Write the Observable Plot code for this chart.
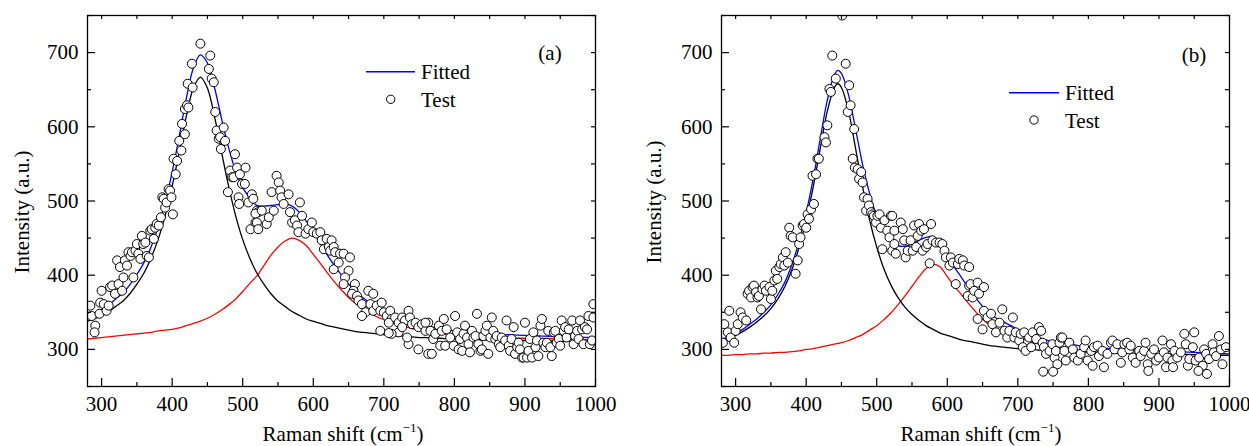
<!DOCTYPE html>
<html><head><meta charset="utf-8">
<script src="https://cdn.jsdelivr.net/npm/d3@7"></script>
<script src="https://cdn.jsdelivr.net/npm/@observablehq/plot@0.6"></script>
<style>
body{margin:0;background:#fff;}
#wrap{position:relative;width:1249px;height:446px;background:#fff;overflow:hidden;}
#pa{position:absolute;left:0;top:0;width:625px;}
#pb{position:absolute;left:634px;top:0;width:615px;}
</style></head><body><div id="wrap"><div id="pa"></div><div id="pb"></div></div>
<script>
const FONT = "'Liberation Serif','Times New Roman',Times,serif";
const xMajor = [300,400,500,600,700,800,900,1000];
const xMinor = [350,450,550,650,750,850,950];
const yMajor = [300,400,500,600,700];
const yMinor = [250,350,450,550,650,750];
const xLabel = "Raman shift (cm";
const yLabel = "Intensity (a.u.)";
const legendFitted = "Fitted";
const legendTest = "Test";

// ---------- panel (a) ----------
const fitXA = [280,290,300,310,320,330,340,350,360,370,380,390,400,410,420,430,440,450,460,470,480,490,500,510,520,530,540,550,560,570,580,590,600,610,620,630,640,650,660,670,680,690,700,710,720,730,740,750,760,780,800,850,900,950,1000];
const blackA = [338,341,346,351,358,365,375,388,403,423,448,480,520,566,614,652,667,652,614,566,520,480,448,423,403,388,375,365,358,351,346,341,338,335,332,330,328,326,324,323,322,321,320,319,318,318,317,316,316,315,314,313,312,311,311];
const redA = [314,315,316,317,318,319,320,321,322,323,325,326,327,329,332,335,338,342,347,353,360,368,378,389,399,413,427,438,446,450,447,440,428,416,403,391,380,370,362,355,349,344,340,336,334,331,328,326,324,321,319,316,315,314,313];
const blueA = [344,348,354,360,368,376,387,401,417,438,465,498,539,587,638,679,697,686,653,611,572,540,518,504,494,493,494,495,496,493,485,473,458,443,427,413,400,388,378,370,363,357,352,347,344,341,337,334,332,328,325,321,319,317,316];
const testA = [
[284,359],[286,345],[291,332],[290,323],[298,363],[297,348],[303,361],[300,379],[307,352],[310,359],[312,384],[315,386],[319,375],[322,420],[324,388],[326,411],[329,379],[331,397],[333,420],[336,413],[338,431],[341,426],[343,431],[345,397],[348,433],[350,442],[352,429],[355,422],[357,453],[359,442],[362,444],[364,426],[367,424],[369,460],[371,462],[374,449],[376,464],[378,469],[381,467],[384,478],[386,505],[388,503],[390,491],[392,498],[395,516],[397,514],[399,505],[401,482],[402,557],[405,536],[407,554],[410,581],[413,568],[414,604],[418,590],[418,624],[421,629],[422,658],[423,626],[428,685],[429,653],[440,712],[454,696],[452,678],[456,665],[459,660],[461,620],[463,595],[466,584],[468,586],[469,570],[473,599],[475,581],[479,512],[482,541],[485,532],[487,532],[489,563],[492,545],[494,505],[495,496],[496,536],[499,523],[503,523],[504,545],[508,498],[511,462],[513,509],[515,503],[520,487],[518,471],[522,485],
[518,483],[520,471],[522,462],[527,487],[534,469],[537,478],[544,487],[541,512],[548,534],[551,525],[553,514],[555,505],[558,496],[565,509],[567,485],[570,471],[574,474],[577,467],[579,458],[581,498],[584,480],[589,456],[593,462],[598,471],[600,458],[605,456],[610,458],[612,447],[615,435],[619,449],[622,438],[624,433],[626,447],
[629,438],[631,431],[638,429],[643,429],[652,424],[629,408],[636,417],[650,406],[645,397],[643,388],[659,388],[657,379],[655,375],[662,372],[664,366],[669,361],[674,350],[669,345],[678,379],[685,375],[681,361],[685,352],[690,359],[695,352],[697,363],[700,350],[704,345],[709,352],[711,341],[707,336],[716,343],[721,336],[726,343],[730,339],[735,352],[737,343],[740,334],[745,336],[749,330],[754,334],[759,325],[763,336],[735,307],[733,316],[749,300],[763,294],[721,323],[711,321],[695,325],[707,322],[726,330],
[759,336],[766,325],[768,294],[770,314],[773,321],[778,332],[780,305],[782,325],[785,341],[787,305],[789,327],[794,316],[799,305],[801,345],[804,323],[806,300],[808,314],[811,298],[813,321],[815,332],[818,316],[820,307],[822,296],[825,325],[827,316],[830,318],[832,348],[834,307],[837,298],[839,300],[841,318],[844,325],[846,332],[848,294],[851,316],[853,343],[855,325],[858,314],[860,318],[863,307],[865,303],[867,316],[872,312],[874,339],[877,305],[879,298],[881,314],[884,330],[886,294],[889,303],[891,309],[893,300],[896,289],[898,289],[900,336],[903,289],[905,298],[907,314],[910,289],[912,323],[915,303],[917,312],[919,291],[922,332],[924,341],[926,309],[929,303],[931,309],[933,325],[936,303],[938,291],[941,323],[943,325],[945,309],[948,314],[950,305],[952,339],[955,325],[957,330],[959,316],[962,327],[967,339],[969,307],[971,318],[974,325],[976,314],[978,339],[981,327],[983,307],[985,330],[988,327],[990,345],[992,307],[995,312],[997,343],[997,361]
];

// ---------- panel (b) ----------
const fitXB = [280,290,300,310,320,330,340,350,360,370,380,390,400,410,420,430,440,445,450,460,470,480,490,500,510,520,530,540,550,560,570,580,590,600,610,620,630,640,650,660,670,680,690,700,710,720,730,740,750,760,780,800,850,900,950,1000];
const blackB = [312,315,319,324,330,337,345,355,368,385,408,438,474,519,571,621,653,658,653,621,571,519,474,438,409,387,370,357,347,339,332,327,322,319,316,313,311,309,307,305,304,303,302,301,300,300,299,298,298,297,297,296,295,294,293,292];
const redB = [292,292,293,293,294,294,295,295,296,296,297,298,300,301,303,305,307,308,309,312,316,320,326,332,340,349,360,372,385,398,409,415,411,398,385,374,362,351,341,333,328,324,320,316,313,310,307,305,303,302,299,297,295,294,293,292];
const blueB = [314,317,322,327,334,341,350,360,374,391,415,446,484,530,584,636,670,676,672,643,597,549,510,480,459,446,440,439,442,447,451,452,443,427,411,397,383,370,358,348,342,337,332,327,323,320,316,313,311,309,306,303,300,298,296,294];
const testB = [
[282,309],[284,334],[289,323],[291,352],[293,316],[298,309],[300,325],[303,334],[307,350],[310,343],[315,339],[317,375],[319,379],[322,370],[324,384],[326,386],[329,377],[331,370],[333,372],[336,354],[338,381],[341,386],[343,379],[348,384],[350,368],[352,379],[355,393],[357,406],[359,395],[362,411],[364,415],[367,424],[369,413],[371,431],[374,417],[376,464],[378,453],[381,451],[385,402],[388,420],[390,442],[392,451],[395,467],[397,469],[400,464],[402,482],[404,476],[407,489],[411,496],[409,534],[414,536],[416,557],[418,557],[426,586],[428,579],[430,602],[433,651],[435,647],[437,696],[442,665],[456,685],[461,656],[459,620],[463,629],[466,557],[468,597],[469,545],[473,543],[475,530],[478,539],[480,525],[482,505],[485,487],[487,503],[489,494],[492,485],[494,482],[496,480],[499,471],[501,480],[504,482],[506,464],[508,435],[511,474],[515,460],[518,451],[520,480],[522,433],[525,442],[451,750],
[522,480],[525,460],[527,429],[534,471],[537,462],[539,447],[541,424],[544,433],[548,447],[551,433],[553,467],[556,438],[558,453],[560,469],[563,460],[565,433],[567,462],[570,438],[572,442],[575,416],[577,469],[579,447],[584,444],[589,444],[593,442],[596,433],[598,424],[603,413],[605,424],[608,417],[612,388],[615,415],[617,422],[622,420],[624,413],[631,411],[629,372],[631,386],[633,388],[636,370],[638,379],[643,390],[645,375],[652,384],[643,341],[650,327],[652,352],[657,343],[662,348],[664,334],[669,323],[674,336],[678,354],[681,325],[685,316],[688,325],[693,343],[695,316],[697,323],[702,312],[704,321],[707,303],[709,323],[711,298],[716,316],[719,303],[721,323],[726,314],[730,330],[733,325],[735,309],[737,303],[740,294],[745,298],[749,307],[752,289],[754,298],[759,309],[761,316],[756,280],[736,270],[750,270],
[763,316],[766,298],[768,285],[773,309],[778,300],[780,289],[785,285],[789,294],[794,303],[796,312],[799,285],[804,298],[806,278],[808,303],[813,305],[815,291],[820,298],[822,276],[827,294],[832,309],[834,312],[837,300],[841,307],[846,282],[848,296],[851,307],[855,309],[858,300],[860,305],[863,289],[867,282],[872,298],[874,291],[879,298],[881,309],[884,280],[889,294],[893,300],[896,285],[900,289],[905,312],[907,296],[910,276],[912,289],[917,307],[919,285],[922,298],[926,289],[931,296],[936,321],[938,307],[941,278],[943,287],[948,303],[950,323],[952,285],[957,289],[962,278],[964,300],[967,294],[971,287],[976,307],[978,296],[981,291],[985,318],[988,300],[990,280],[995,303],[885,271],[956,271],[968,267],[920,276]
];

function panel(el, cfg) {
  const W = cfg.width, H = 446, mt = 15, mb = 60, ml = 87, mr = W - 87 - 508;
  const FH = H - mt - mb, FW = W - ml - mr;
  const fitted = cfg.fx.map((x, i) => ({x, black: cfg.black[i], red: cfg.red[i], blue: cfg.blue[i]}));
  const lw = 1.3;
  const svg = Plot.plot({
    width: W, height: H,
    marginTop: mt, marginBottom: mb, marginLeft: ml, marginRight: mr,
    x: {domain: [280, 1000]},
    y: {domain: [250, 750]},
    style: {fontFamily: FONT, fontSize: "21px", color: "#000", background: "#fff"},
    marks: [
      Plot.line(fitted, {x: "x", y: "red", stroke: "#ff0000", strokeWidth: lw, curve: "catmull-rom", clip: true}),
      Plot.line(fitted, {x: "x", y: "black", stroke: "#000", strokeWidth: lw, curve: "catmull-rom", clip: true}),
      Plot.line(fitted, {x: "x", y: "blue", stroke: "#0000ff", strokeWidth: lw, curve: "catmull-rom", clip: true}),
      Plot.dot(cfg.test, {x: d => d[0], y: d => d[1], r: 4.5, fill: "#fff", stroke: "#000", strokeWidth: 1, clip: true}),
      Plot.ruleX(xMajor, {insetTop: FH - 8, stroke: "#000", strokeWidth: 1.2}),
      Plot.ruleX(xMinor, {insetTop: FH - 4, stroke: "#000", strokeWidth: 1.2}),
      Plot.ruleX(xMajor.concat(xMinor), {insetBottom: FH - 4, stroke: "#000", strokeWidth: 1.2}),
      Plot.ruleY(yMajor, {insetRight: FW - 8, stroke: "#000", strokeWidth: 1.2}),
      Plot.ruleY(yMinor, {insetRight: FW - 4, stroke: "#000", strokeWidth: 1.2}),
      Plot.ruleY(yMajor.concat(yMinor), {insetLeft: FW - 4, stroke: "#000", strokeWidth: 1.2}),
      Plot.frame({stroke: "#000", strokeWidth: 1.3}),
      Plot.axisX(xMajor, {tickSize: 0, tickPadding: 10, label: null, tickFormat: d3.format("d")}),
      Plot.axisY(yMajor, {tickSize: 0, tickPadding: 9, label: null, tickFormat: d3.format("d")})
    ]
  });
  const s = d3.select(svg);
  const t = (x, y) => s.append("text").attr("x", x).attr("y", y).attr("font-family", FONT)
    .attr("font-size", 21).attr("fill", "#000").attr("text-anchor", "start");
  // y axis title
  s.append("text").attr("transform", `translate(${cfg.ylx},${cfg.yly}) rotate(-90)`)
    .attr("text-anchor", "middle").attr("dy", "0.35em").attr("font-family", FONT).attr("font-size", 21).text(yLabel);
  // x axis title with superscript
  const xt = t(cfg.xlx, 441).attr("text-anchor", "middle");
  xt.append("tspan").text(xLabel);
  xt.append("tspan").attr("font-size", 13).attr("dy", -9).text("\u22121");
  xt.append("tspan").attr("dy", 9).text(")");
  // legend
  s.append("line").attr("x1", cfg.lx1).attr("x2", cfg.lx2).attr("y1", cfg.ly1).attr("y2", cfg.ly1)
    .attr("stroke", "#0000ff").attr("stroke-width", 1.4);
  t(cfg.ltx, cfg.ly1).attr("dy", "0.36em").text(legendFitted);
  s.append("circle").attr("cx", cfg.lcx).attr("cy", cfg.ly2).attr("r", 4.2).attr("fill", "#fff").attr("stroke", "#000").attr("stroke-width", 1);
  t(cfg.ltx, cfg.ly2).attr("dy", "0.36em").text(legendTest);
  t(cfg.tagx, cfg.tagy).attr("text-anchor", "middle").text(cfg.tag);
  el.appendChild(svg);
}

panel(document.getElementById("pa"), {
  width: 625, fx: fitXA, black: blackA, red: redA, blue: blueA, test: testA,
  ylx: 22, yly: 212, xlx: 343,
  lx1: 366, lx2: 415, ly1: 71.7, ltx: 421, lcx: 390.7, ly2: 99.3,
  tag: "(a)", tagx: 550, tagy: 59.5
});
panel(document.getElementById("pb"), {
  width: 615, fx: fitXB, black: blackB, red: redB, blue: blueB, test: testB,
  ylx: 20, yly: 202, xlx: 347,
  lx1: 375, lx2: 425, ly1: 92.7, ltx: 431, lcx: 400, ly2: 120,
  tag: "(b)", tagx: 560, tagy: 61.5
});
</script></body></html>
